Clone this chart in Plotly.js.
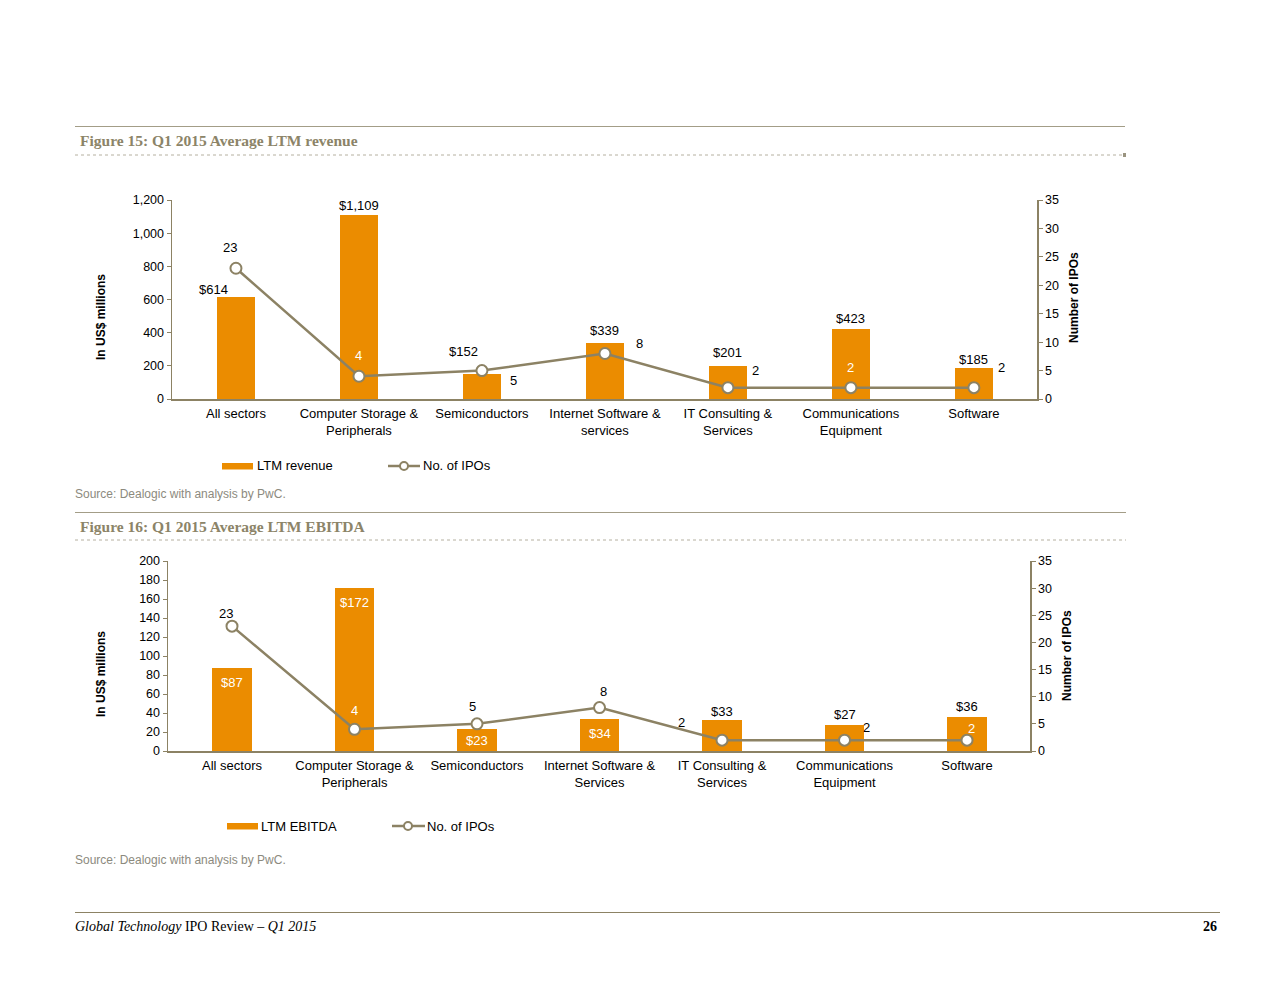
<!DOCTYPE html>
<html>
<head>
<meta charset="utf-8">
<script src="https://cdn.plot.ly/plotly-3.0.1.min.js"></script>
<style>
html,body{margin:0;padding:0;background:#fff;}
#chart{width:1280px;height:990px;}
</style>
</head>
<body>
<div id="chart"></div>
<script>
// ---- Data ----
const categories1 = ['All sectors', 'Computer Storage &<br>Peripherals', 'Semiconductors', 'Internet Software &<br>services', 'IT Consulting &<br>Services', 'Communications<br>Equipment', 'Software'];
const categories2 = ['All sectors', 'Computer Storage &<br>Peripherals', 'Semiconductors', 'Internet Software &<br>Services', 'IT Consulting &<br>Services', 'Communications<br>Equipment', 'Software'];
const ltmRevenue = [614, 1109, 152, 339, 201, 423, 185];
const iposRevenue = [23, 4, 5, 8, 2, 2, 2];
const ltmEbitda = [87, 172, 23, 34, 33, 27, 36];
const iposEbitda = [23, 4, 5, 8, 2, 2, 2];
const revTicks = [0, 200, 400, 600, 800, 1000, 1200];
const ebitdaTicks = [0, 20, 40, 60, 80, 100, 120, 140, 160, 180, 200];
const ipoTicks = [0, 5, 10, 15, 20, 25, 30, 35];

// ---- Label placement (styles: [xshift, yshift, colour]) ----
const revLabelStyle = [[-22, 8, '#000'], [0, 10, '#000'], [-18, 22, '#000'], [0, 12, '#000'], [0, 13, '#000'], [0, 10, '#000'], [0, 9, '#000']];
const ipoRevLabelStyle = [[-6, 21, '#000'], [0, 21, '#fff'], [32, -10, '#000'], [35, 10, '#000'], [28, 17, '#000'], [0, 20, '#fff'], [28, 20, '#000']];
const ebitdaLabelStyle = [[0, -14, '#fff'], [0, -15, '#fff'], [0, -11, '#fff'], [0, -15, '#fff'], [0, 8, '#000'], [0, 11, '#000'], [0, 10, '#000']];
const ipoEbitdaLabelStyle = [[-6, 13, '#000'], [0, 19, '#fff'], [-5, 17, '#000'], [4, 16, '#000'], [-41, 18, '#000'], [22, 13, '#000'], [4, 12, '#fff']];

const ORANGE = '#EB8C00';
const LINEC = '#8C8264';
const AXISC = '#8C8264';
const TITLEC = '#8C8468';
const SANS = 'Liberation Sans, Arial, sans-serif';
const SERIF = 'Liberation Serif, Georgia, serif';

const W = 1280, H = 990;
const px = v => v / W;
const py = v => 1 - v / H;

function fmtMoney(v) { return '$' + v.toLocaleString('en-US'); }

const traces = [
  {type: 'bar', x: categories1, y: ltmRevenue, xaxis: 'x', yaxis: 'y', marker: {color: ORANGE}, width: 0.315, name: 'LTM revenue', showlegend: false, hoverinfo: 'skip'},
  {type: 'scatter', mode: 'lines+markers', x: categories1, y: iposRevenue, xaxis: 'x', yaxis: 'y2', line: {color: LINEC, width: 2.5},
   marker: {symbol: 'circle', size: 11, color: '#fff', line: {color: LINEC, width: 2}}, name: 'No. of IPOs', showlegend: false, hoverinfo: 'skip'},
  {type: 'bar', x: categories2, y: ltmEbitda, xaxis: 'x2', yaxis: 'y3', marker: {color: ORANGE}, width: 0.32, name: 'LTM EBITDA', showlegend: false, hoverinfo: 'skip'},
  {type: 'scatter', mode: 'lines+markers', x: categories2, y: iposEbitda, xaxis: 'x2', yaxis: 'y4', line: {color: LINEC, width: 2.5},
   marker: {symbol: 'circle', size: 11, color: '#fff', line: {color: LINEC, width: 2}}, name: 'No. of IPOs', showlegend: false, hoverinfo: 'skip'}
];

const annotations = [];
function addLabels(cats, vals, styles, xref, yref, fmt) {
  vals.forEach((v, i) => {
    annotations.push({
      x: i, y: v, xref: xref, yref: yref, text: fmt(v), showarrow: false,
      xshift: styles[i][0], yshift: styles[i][1], xanchor: 'center', yanchor: 'middle',
      font: {family: SANS, size: 13, color: styles[i][2]}
    });
  });
}
addLabels(categories1, ltmRevenue, revLabelStyle, 'x', 'y', fmtMoney);
addLabels(categories1, iposRevenue, ipoRevLabelStyle, 'x', 'y2', v => String(v));
addLabels(categories2, ltmEbitda, ebitdaLabelStyle, 'x2', 'y3', fmtMoney);
addLabels(categories2, iposEbitda, ipoEbitdaLabelStyle, 'x2', 'y4', v => String(v));

function paperText(x, y, text, font, xanchor, extra) {
  annotations.push(Object.assign({x: px(x), y: py(y), xref: 'paper', yref: 'paper', text: text, showarrow: false,
    xanchor: xanchor || 'left', yanchor: 'middle', borderpad: 0, font: font}, extra || {}));
}
// Figure titles
paperText(79, 140, '<b>Figure 15: Q1 2015 Average LTM revenue</b>', {family: SERIF, size: 15.5, color: TITLEC});
paperText(79, 526, '<b>Figure 16: Q1 2015 Average LTM EBITDA</b>', {family: SERIF, size: 15.5, color: TITLEC});
// Axis titles
paperText(101, 317, '<b>In US$ millions</b>', {family: SANS, size: 12, color: '#000'}, 'center', {textangle: -90});
paperText(1074, 298, '<b>Number of IPOs</b>', {family: SANS, size: 12, color: '#000'}, 'center', {textangle: -90});
paperText(101, 674, '<b>In US$ millions</b>', {family: SANS, size: 12, color: '#000'}, 'center', {textangle: -90});
paperText(1067, 656, '<b>Number of IPOs</b>', {family: SANS, size: 12, color: '#000'}, 'center', {textangle: -90});
// Legends
paperText(256, 466, 'LTM revenue', {family: SANS, size: 13, color: '#000'});
paperText(422, 466, 'No. of IPOs', {family: SANS, size: 13, color: '#000'});
paperText(260, 826, 'LTM EBITDA', {family: SANS, size: 13, color: '#000'});
paperText(426, 826, 'No. of IPOs', {family: SANS, size: 13, color: '#000'});
// Sources
paperText(74, 494, 'Source: Dealogic with analysis by PwC.', {family: SANS, size: 12, color: '#8C8A7E'});
paperText(74, 860, 'Source: Dealogic with analysis by PwC.', {family: SANS, size: 12, color: '#8C8A7E'});
// Footer
paperText(74, 926, '<i>Global Technology</i> IPO Review – <i>Q1 2015</i>', {family: SERIF, size: 14, color: '#000'});
paperText(1218, 926, '<b>26</b>', {family: SERIF, size: 14, color: '#000'}, 'right');

const GOLD = '#A39D87';
function hline(x0, x1, y, color, width, dash) {
  return {type: 'line', xref: 'paper', yref: 'paper', x0: px(x0), x1: px(x1), y0: py(y), y1: py(y), line: {color: color, width: width, dash: dash || 'solid'}};
}
function rect(x0, x1, y0, y1, fill) {
  return {type: 'rect', xref: 'paper', yref: 'paper', x0: px(x0), x1: px(x1), y0: py(y1), y1: py(y0), fillcolor: fill, line: {width: 0}};
}
function circ(cx, cy, r) {
  return {type: 'circle', xref: 'paper', yref: 'paper', x0: px(cx - r), x1: px(cx + r), y0: py(cy + r), y1: py(cy - r), fillcolor: '#fff', line: {color: LINEC, width: 2}};
}
const shapes = [
  hline(75, 1125, 126.5, GOLD, 1.2),
  hline(75, 1125, 155, '#B5B0A0', 1, 'dot'),
  rect(1123, 1126, 153, 157, '#9A9480'),
  hline(75, 1126, 512.5, GOLD, 1.2),
  hline(75, 1126, 540, '#B5B0A0', 1, 'dot'),
  hline(75, 1220, 912.5, '#8C8264', 1.2),
  // legend keys
  rect(222, 253, 463, 469.5, ORANGE),
  hline(388, 420, 466, LINEC, 2.5),
  circ(404, 466, 4),
  rect(227, 258, 823, 829.5, ORANGE),
  hline(392, 425, 826, LINEC, 2.5),
  circ(408, 826, 4)
];

const tickFont = {family: SANS, size: 12.5, color: '#000'};
const catFont = {family: SANS, size: 13, color: '#000'};
function catAxis(domain, anchor, range) {
  return {domain: domain, anchor: anchor, type: 'category', range: range, showline: true, linecolor: AXISC, linewidth: 1.5,
    ticks: '', ticklabelstandoff: 2, showgrid: false, zeroline: false, tickfont: catFont, tickangle: 0, fixedrange: true};
}
function valAxis(domain, anchor, range, ticks, side, overlaying, fmt) {
  const a = {domain: domain, anchor: anchor, range: range, tickvals: ticks, tickformat: fmt || '', showline: true, linecolor: AXISC, linewidth: 1.5,
    ticks: 'outside', ticklen: 4, tickcolor: AXISC, tickwidth: 1, showgrid: false, zeroline: false, tickfont: tickFont, side: side, fixedrange: true};
  if (overlaying) a.overlaying = overlaying;
  return a;
}

const layout = {
  width: W, height: H,
  margin: {l: 0, r: 0, t: 0, b: 0},
  paper_bgcolor: '#fff', plot_bgcolor: 'rgba(0,0,0,0)',
  showlegend: false,
  bargap: 0,
  xaxis: catAxis([px(172), px(1037)], 'y', [-0.52, 6.513]),
  yaxis: valAxis([py(399), py(200)], 'x', [0, 1200], revTicks, 'left', null, ','),
  yaxis2: valAxis([py(399), py(200)], 'x', [0, 35], ipoTicks, 'right', 'y'),
  xaxis2: catAxis([px(168), px(1030)], 'y3', [-0.5225, 6.514]),
  yaxis3: valAxis([py(751), py(561)], 'x2', [0, 200], ebitdaTicks, 'left'),
  yaxis4: valAxis([py(751), py(561)], 'x2', [0, 35], ipoTicks, 'right', 'y3'),
  annotations: annotations,
  shapes: shapes,
  font: {family: SANS}
};

Plotly.newPlot('chart', traces, layout, {displayModeBar: false, staticPlot: true});
</script>
</body>
</html>
